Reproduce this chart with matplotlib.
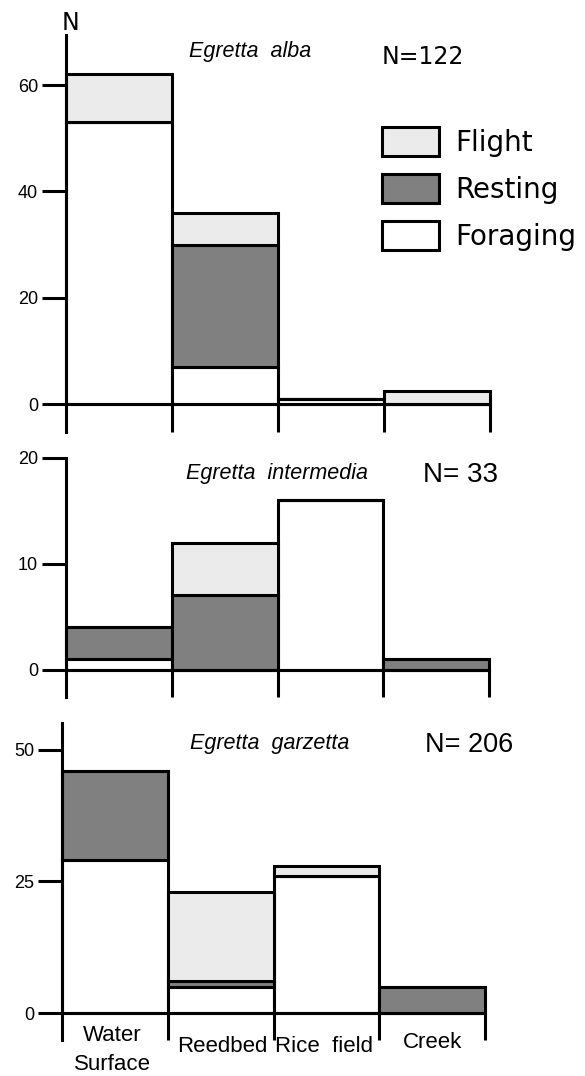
import numpy as np
import matplotlib.pyplot as plt
from matplotlib.patches import Patch

# habitat categories and counts per behaviour
habitats = ['Water\nSurface', 'Reedbed', 'Rice  field', 'Creek']
behaviours = ['Flight', 'Resting', 'Foraging']

alba_foraging = [53, 7, 1, 0]
alba_resting = [0, 23, 0, 0]
alba_flight = [9, 6, 0, 2.5]

inter_foraging = [1, 0, 16, 0]
inter_resting = [3, 7, 0, 1]
inter_flight = [0, 5, 0, 0]

garz_foraging = [29, 5, 26, 0]
garz_resting = [17, 1, 0, 5]
garz_flight = [0, 17, 2, 0]

species = ['Egretta  alba', 'Egretta  intermedia', 'Egretta  garzetta']
totals = ['N=122', 'N= 33', 'N= 206']
yticks = [[0, 20, 40, 60], [0, 10, 20], [0, 25, 50]]

col_flight = '#ebebeb'
col_resting = '#808080'
col_forage = 'white'
LW = 2.2

W, H = 585, 1076
fig = plt.figure(figsize=(W / 100, H / 100), dpi=100)


def px(x, y):
    return x / W, 1 - y / H


def add_axes(left, right, top, bottom):
    return fig.add_axes([left / W, 1 - bottom / H, (right - left) / W, (bottom - top) / H])


panels = [
    (add_axes(66, 490, 35, 432), (-5.2, 69.4),
     alba_foraging, alba_resting, alba_flight),
    (add_axes(66, 489, 458, 697), (-2.6, 20),
     inter_foraging, inter_resting, inter_flight),
    (add_axes(62, 485, 723, 1040), (-5.13, 55.1),
     garz_foraging, garz_resting, garz_flight),
]

x = np.arange(len(habitats))
for i, (ax, ylim, forage, rest, flight) in enumerate(panels):
    forage = np.array(forage, dtype=float)
    rest = np.array(rest, dtype=float)
    flight = np.array(flight, dtype=float)
    kw = dict(width=1, align='edge', edgecolor='black', linewidth=LW, clip_on=False)
    ax.bar(x, forage, color=col_forage, **kw)
    ax.bar(x, rest, bottom=forage, color=col_resting, **kw)
    ax.bar(x, flight, bottom=forage + rest, color=col_flight, **kw)

    ax.set_xlim(0, len(habitats))
    ax.set_ylim(*ylim)
    ax.axhline(0, color='black', lw=LW, clip_on=False)
    ax.vlines(np.arange(1, len(habitats) + 1), ylim[0], 0, color='black', lw=LW,
              clip_on=False)

    for s in ['top', 'right', 'bottom']:
        ax.spines[s].set_visible(False)
    ax.spines['left'].set_linewidth(LW)
    ax.set_xticks([])
    ax.set_yticks(yticks[i])
    ax.tick_params(axis='y', length=17, width=LW, pad=3, labelsize=13)
    for t in ax.get_yticklabels():
        t.set_family('Liberation Sans')
    ax.set_facecolor('none')

# category labels under the bottom panel
label_pos = [(112, 1035), (222, 1047), (324, 1047), (433, 1043)]
for lab, (lx, ly) in zip(habitats, label_pos):
    if '\n' in lab:
        ly += 15
    fig.text(*px(lx, ly), lab, ha='center', va='center', fontsize=16,
             family='Liberation Sans', linespacing=1.45)

# species names and sample sizes
for name, (sx, sy) in zip(species, [(250, 52), (277, 473), (270, 743)]):
    fig.text(*px(sx, sy), name, ha='center', va='center', fontsize=15.5,
             style='italic', family='Liberation Sans')
fig.text(*px(382, 57), totals[0], ha='left', va='center', fontsize=17,
         family='DejaVu Sans')
fig.text(*px(423, 475), totals[1], ha='left', va='center', fontsize=20,
         family='Liberation Sans')
fig.text(*px(425, 745), totals[2], ha='left', va='center', fontsize=19.5,
         family='Liberation Sans')
fig.text(*px(70, 23), 'N', ha='center', va='center', fontsize=17, family='DejaVu Sans')

# legend
handles = [Patch(facecolor=c, edgecolor='black', linewidth=LW)
           for c in [col_flight, col_resting, col_forage]]
fig.legend(handles, behaviours, loc='upper left', bbox_to_anchor=px(382, 127),
           frameon=False, prop={'family': 'DejaVu Sans', 'size': 20},
           handlelength=2.05, handleheight=1.22, labelspacing=0.62,
           handletextpad=0.6, borderpad=0, borderaxespad=0)

fig.savefig('out.png', dpi=100)
